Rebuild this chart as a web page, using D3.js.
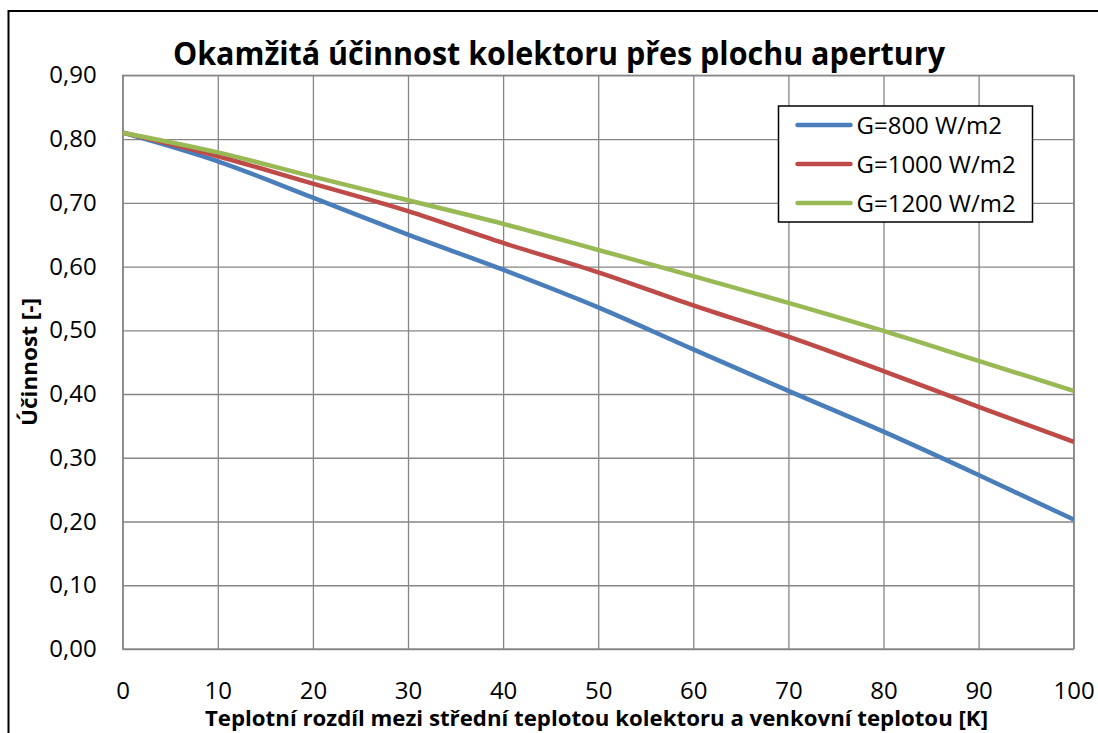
<!DOCTYPE html>
<html>
<head>
<meta charset="utf-8">
<script src="https://cdn.jsdelivr.net/npm/d3@7"></script>
<style>
  html, body { margin: 0; padding: 0; background: #fff; }
  svg { display: block; }
  text { font-family: "Open Sans", "Noto Sans", sans-serif; fill: #000; }
</style>
</head>
<body>
<svg id="chart" width="1098" height="733"></svg>
<script>
// ---- data ----
const xValues = [0, 10, 20, 30, 40, 50, 60, 70, 80, 90, 100];
const seriesNames = ["G=800 W/m2", "G=1000 W/m2", "G=1200 W/m2"];
const g800  = [0.810, 0.765, 0.708, 0.650, 0.595, 0.536, 0.470, 0.405, 0.341, 0.273, 0.203];
const g1000 = [0.810, 0.773, 0.730, 0.687, 0.637, 0.591, 0.539, 0.490, 0.436, 0.380, 0.325];
const g1200 = [0.810, 0.779, 0.741, 0.704, 0.667, 0.626, 0.585, 0.543, 0.499, 0.452, 0.405];
const xTicks = [0, 10, 20, 30, 40, 50, 60, 70, 80, 90, 100];
const yTicks = [0, 0.1, 0.2, 0.3, 0.4, 0.5, 0.6, 0.7, 0.8, 0.9];
const titleText = "Okamžitá účinnost kolektoru přes plochu apertury";
const xTitle = "Teplotní rozdíl mezi střední teplotou kolektoru a venkovní teplotou [K]";
const yTitle = "Účinnost [-]";
const colors = ["#4A7EBB", "#BE4B48", "#98B954"];

const series = [g800, g1000, g1200].map((vals, i) => ({
  name: seriesNames[i], color: colors[i],
  points: xValues.map((x, j) => ({ x, y: vals[j] }))
}));

const svg = d3.select("#chart");

// outer chart frame (extends beyond the visible window on right/bottom)
svg.append("rect")
  .attr("x", 8.5).attr("y", 11)
  .attr("width", 1200).attr("height", 800)
  .attr("fill", "#fff").attr("stroke", "#000").attr("stroke-width", 2);

const plot = { left: 122.7, right: 1073.7, top: 75.3, bottom: 649 };
const x = d3.scaleLinear().domain([0, 100]).range([plot.left, plot.right]);
const y = d3.scaleLinear().domain([0, 0.9]).range([plot.bottom, plot.top]);

// grid
const gridColor = "#868686";
svg.append("g")
  .attr("transform", `translate(0,${plot.bottom})`)
  .call(d3.axisBottom(x).tickValues(xTicks).tickSize(-(plot.bottom - plot.top)).tickFormat(""))
  .call(g => g.select(".domain").remove())
  .call(g => g.selectAll("line").attr("stroke", gridColor).attr("stroke-width", 1.3));
svg.append("g")
  .attr("transform", `translate(${plot.left},0)`)
  .call(d3.axisLeft(y).tickValues(yTicks).tickSize(-(plot.right - plot.left)).tickFormat(""))
  .call(g => g.select(".domain").remove())
  .call(g => g.selectAll("line").attr("stroke", gridColor).attr("stroke-width", 1.3));

svg.append("rect")
  .attr("x", plot.left).attr("y", plot.top)
  .attr("width", plot.right - plot.left).attr("height", plot.bottom - plot.top)
  .attr("fill", "none").attr("stroke", gridColor).attr("stroke-width", 1.3);

// tick labels
const fmt = v => d3.format(".2f")(v).replace(".", ",");
const yAxis = svg.append("g")
  .attr("transform", `translate(${plot.left},0)`)
  .call(d3.axisLeft(y).tickValues(yTicks).tickSize(0).tickPadding(26).tickFormat(fmt));
yAxis.select(".domain").remove();
yAxis.selectAll("text").attr("font-size", 24).attr("font-family", "Open Sans").attr("fill", "#000");

const xAxis = svg.append("g")
  .attr("transform", `translate(0,${plot.bottom})`)
  .call(d3.axisBottom(x).tickValues(xTicks).tickSize(0).tickPadding(33).tickFormat(d3.format("d")));
xAxis.select(".domain").remove();
xAxis.selectAll("text").attr("font-size", 24).attr("font-family", "Open Sans").attr("fill", "#000");

// lines
const line = d3.line().x(d => x(d.x)).y(d => y(d.y)).curve(d3.curveMonotoneX);
svg.append("g").selectAll("path").data(series).join("path")
  .attr("d", d => line(d.points))
  .attr("fill", "none")
  .attr("stroke", d => d.color)
  .attr("stroke-width", 4.5)
  .attr("stroke-linejoin", "round");

// title
svg.append("text")
  .attr("x", 173).attr("y", 65)
  .attr("font-size", 32).attr("font-weight", "bold")
  .attr("textLength", 772).attr("lengthAdjust", "spacingAndGlyphs")
  .text(titleText);

// axis titles
svg.append("text")
  .attr("x", 205).attr("y", 726)
  .attr("font-size", 21).attr("font-weight", "bold")
  .attr("textLength", 783).attr("lengthAdjust", "spacingAndGlyphs")
  .text(xTitle);

svg.append("text")
  .attr("transform", `translate(37,362) rotate(-90)`)
  .attr("text-anchor", "middle")
  .attr("font-size", 21).attr("font-weight", "bold")
  .attr("textLength", 128).attr("lengthAdjust", "spacingAndGlyphs")
  .text(yTitle);

// legend
const lg = { x: 778.5, y: 106, w: 254, h: 116, row: 39 };
svg.append("rect")
  .attr("x", lg.x).attr("y", lg.y).attr("width", lg.w).attr("height", lg.h)
  .attr("fill", "#fff").attr("stroke", "#000").attr("stroke-width", 1.5);
const items = svg.append("g").selectAll("g").data(series).join("g")
  .attr("transform", (d, i) => `translate(${lg.x},${lg.y + 19 + i * lg.row})`);
items.append("line")
  .attr("x1", 19).attr("x2", 72).attr("y1", 0).attr("y2", 0)
  .attr("stroke", d => d.color).attr("stroke-width", 4.5).attr("stroke-linecap", "round");
items.append("text")
  .attr("x", 78).attr("y", 8.5)
  .attr("font-size", 24)
  .text(d => d.name);
</script>
</body>
</html>
